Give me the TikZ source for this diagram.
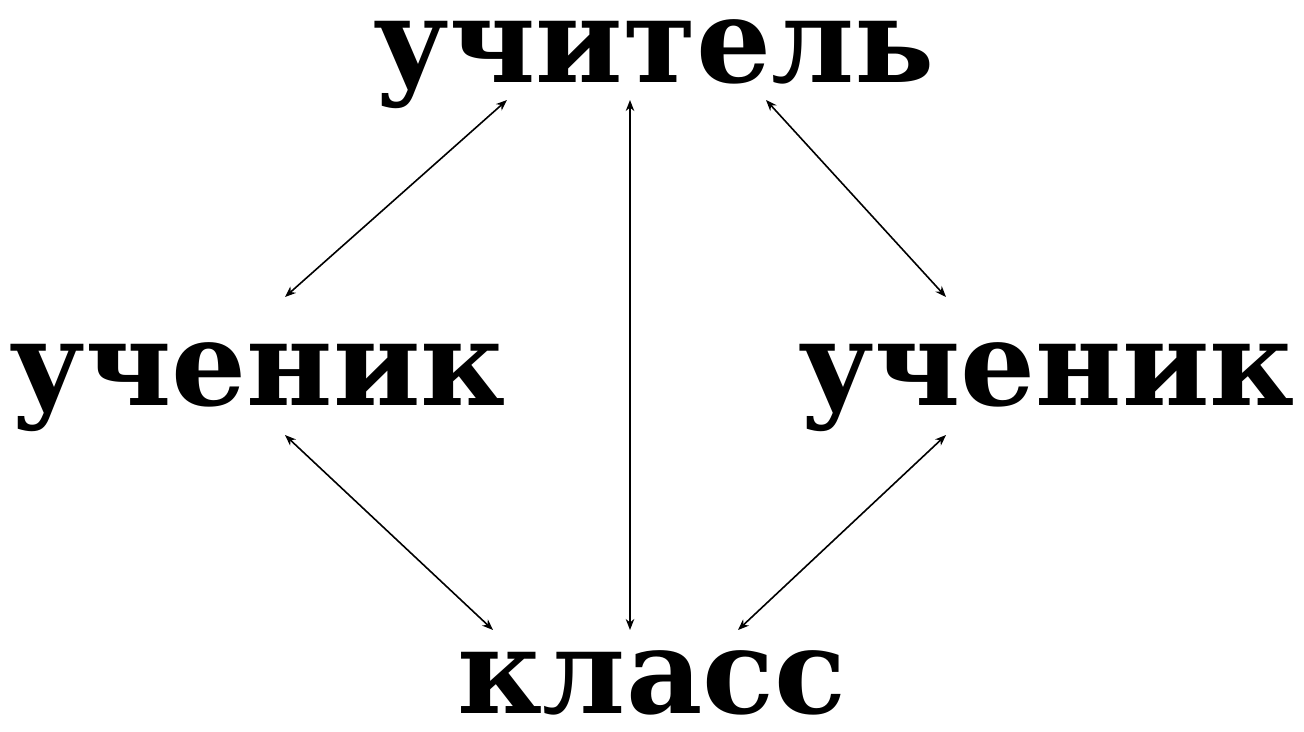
\documentclass[tikz,border=0pt]{standalone}
\usepackage{fontspec}
\setmainfont{DejaVu Serif}
\usetikzlibrary{arrows.meta}
\tikzset{
  word/.style={font=\fontsize{118}{118}\selectfont\bfseries, inner sep=0pt, anchor=base},
  link/.style={line width=1.6pt, {Stealth[length=11pt,width=8.5pt,inset=3.5pt]}-{Stealth[length=11pt,width=8.5pt,inset=3.5pt]}}
}
\begin{document}
\begin{tikzpicture}[x=1pt,y=-1pt]
\useasboundingbox (0,0) rectangle (1304,731);
\node[word] (teacher) at (654,82) {учитель};
\node[word] (pupilL) at (258,405) {ученик};
\node[word] (pupilR) at (1047,405) {ученик};
\node[word] (class) at (652,713) {класс};
\coordinate (tA) at (507,100);
\coordinate (tB) at (630,100);
\coordinate (tC) at (766,100);
\coordinate (lA) at (285,297);
\coordinate (lB) at (285,435);
\coordinate (rA) at (946,297);
\coordinate (rB) at (946,435);
\coordinate (cA) at (493,630);
\coordinate (cB) at (630,630);
\coordinate (cC) at (738,630);
\draw[link] (tA) -- (lA);
\draw[link] (tB) -- (cB);
\draw[link] (tC) -- (rA);
\draw[link] (lB) -- (cA);
\draw[link] (rB) -- (cC);
\end{tikzpicture}
\end{document}
